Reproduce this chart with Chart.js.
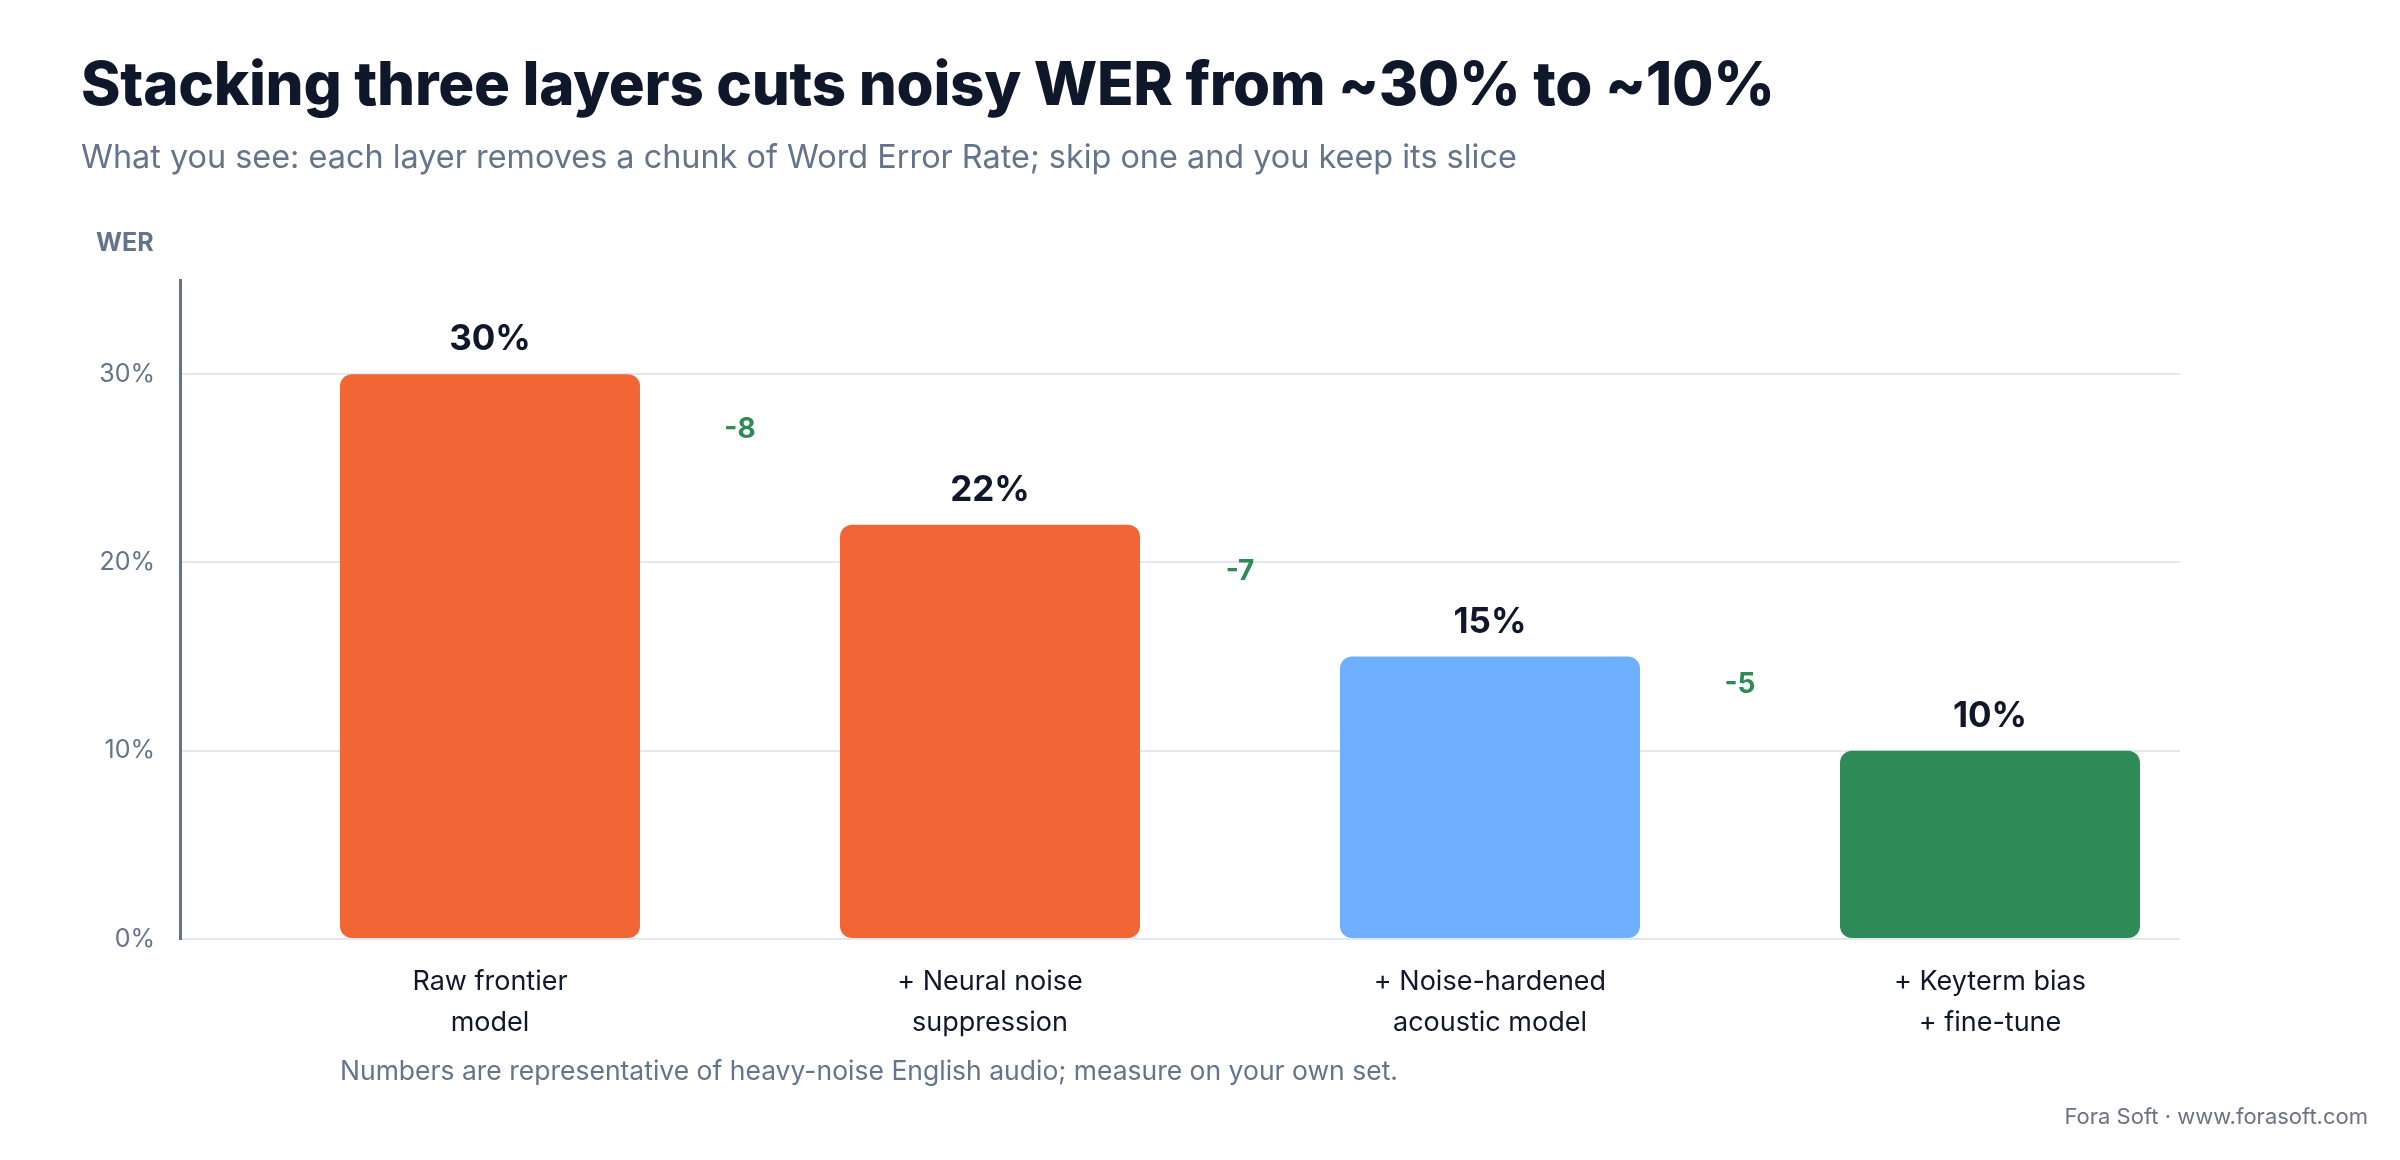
<!DOCTYPE html>
<html>
<head>
<meta charset="utf-8">
<script src="https://cdn.jsdelivr.net/npm/chart.js@4.4.1/dist/chart.umd.min.js"></script>
<style>
  html, body { margin: 0; padding: 0; background: #ffffff; }
  #wrap { position: relative; width: 2400px; height: 1160px; overflow: hidden; font-family: "Inter", "Noto Sans", sans-serif; }
  #c { position: absolute; left: 0; top: 0; }
  .t { position: absolute; white-space: nowrap; margin: 0; }
  #title { left: 81px; top: 53px; font-size: 60px; line-height: 60px; font-weight: 800; color: #0F172A; letter-spacing: -0.3px; }
  #subtitle { left: 81px; top: 141px; font-size: 32.4px; line-height: 32px; font-weight: 400; color: #64748B; }
  #wer { left: 96px; top: 230px; font-size: 25px; line-height: 25px; font-weight: 700; color: #64748B; }
  #note { left: 340px; top: 1057px; font-size: 26.5px; line-height: 26px; font-weight: 400; color: #64748B; }
  #credit { right: 32px; top: 1105px; font-size: 22px; line-height: 22px; font-weight: 400; color: #6B7280; }
</style>
</head>
<body>
<div id="wrap">
  <canvas id="c" width="2400" height="1160"></canvas>
  <div class="t" id="title">Stacking three layers cuts noisy WER from ~30% to ~10%</div>
  <div class="t" id="subtitle">What you see: each layer removes a chunk of Word Error Rate; skip one and you keep its slice</div>
  <div class="t" id="wer">WER</div>
  <div class="t" id="note">Numbers are representative of heavy-noise English audio; measure on your own set.</div>
  <div class="t" id="credit">Fora Soft · www.forasoft.com</div>
</div>
<script>
// ---- data ----
const categories = [
  ["Raw frontier", "model"],
  ["+ Neural noise", "suppression"],
  ["+ Noise-hardened", "acoustic model"],
  ["+ Keyterm bias", "+ fine-tune"]
];
const werValues = [30, 22, 15, 10];
const deltas = [-8, -7, -5];
const yTicks = [0, 10, 20, 30];
const barColors = ["#F26535", "#F26535", "#6EB0FF", "#2E8B57"];

const FONT = '"Inter", "Noto Sans", sans-serif';

const labelsPlugin = {
  id: 'barLabels',
  afterDatasetsDraw(chart) {
    const ctx = chart.ctx;
    const xs = chart.scales.x, ys = chart.scales.y;
    ctx.save();
    ctx.textAlign = 'center';
    ctx.textBaseline = 'alphabetic';
    // value labels
    ctx.fillStyle = '#0F172A';
    ctx.font = '700 35px ' + FONT;
    werValues.forEach((v, i) => {
      ctx.fillText(v + '%', xs.getPixelForValue(i), ys.getPixelForValue(v) - 24);
    });
    // delta labels
    ctx.fillStyle = '#2E8B57';
    ctx.font = '700 28px ' + FONT;
    deltas.forEach((d, i) => {
      const mid = (werValues[i] + werValues[i + 1]) / 2;
      ctx.fillText(String(d), xs.getPixelForValue(i + 0.5), ys.getPixelForValue(mid) - 11);
    });
    ctx.restore();
  }
};

new Chart(document.getElementById('c'), {
  type: 'bar',
  data: {
    datasets: [{
      data: werValues.map((v, i) => ({ x: i, y: v })),
      backgroundColor: barColors,
      borderRadius: 12,
      borderSkipped: false,
      barPercentage: 0.6,
      categoryPercentage: 1.0
    }]
  },
  options: {
    responsive: false,
    devicePixelRatio: 1,
    animation: false,
    layout: { padding: { left: 0, right: 220, top: 280, bottom: 0 } },
    plugins: { legend: { display: false }, tooltip: { enabled: false }, title: { display: false } },
    scales: {
      x: {
        type: 'linear',
        offset: false,
        min: -0.62,
        max: 3.38,
        grid: { display: false, drawTicks: false },
        border: { display: false },
        afterBuildTicks(scale) { scale.ticks = categories.map((c, i) => ({ value: i })); },
        afterFit(scale) { scale.height = 221; },
        ticks: {
          autoSkip: false,
          maxRotation: 0,
          padding: 23,
          color: '#0F172A',
          font: { family: FONT, size: 27, weight: '400', lineHeight: 1.5 },
          callback: (v) => categories[v]
        }
      },
      y: {
        min: 0,
        max: 35,
        grid: { color: '#E2E8F0', lineWidth: 2, drawTicks: false },
        border: { display: true, color: '#64748B', width: 3 },
        afterBuildTicks(scale) { scale.ticks = yTicks.map(v => ({ value: v })); },
        afterFit(scale) { scale.width = 180; },
        ticks: {
          padding: 25,
          color: '#64748B',
          font: { family: FONT, size: 25, weight: '400' },
          callback: (v) => v + '%'
        }
      }
    }
  },
  plugins: [labelsPlugin]
});
</script>
</body>
</html>
